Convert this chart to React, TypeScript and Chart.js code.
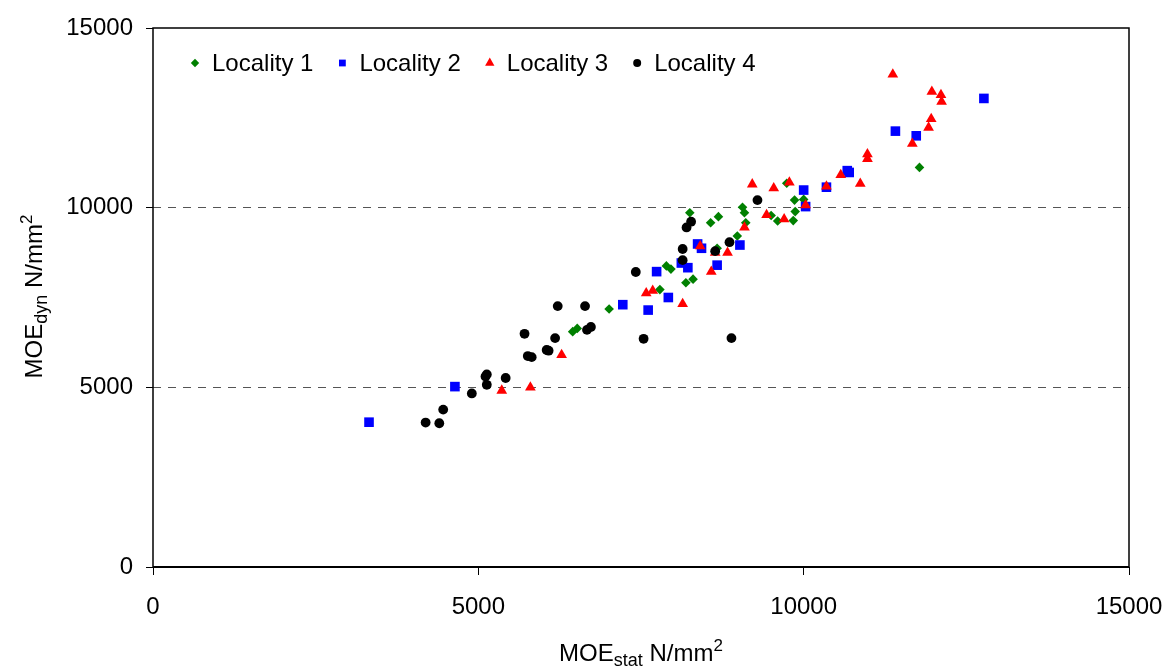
import React, { useEffect, useRef } from 'react';
import { Chart, registerables } from 'chart.js';
import { drawPoint } from 'chart.js/helpers';

Chart.register(...registerables);

const seriesNames = ['Locality 1', 'Locality 2', 'Locality 3', 'Locality 4'];

const locality1X = [6450, 6520, 7010, 7790, 7890, 7960, 8190, 8300, 8250, 8570, 8690, 8670, 8980, 9110, 9060, 9090, 9500, 9600, 9740, 9840, 9870, 9860, 10000, 11780];
const locality1Y = [6550, 6640, 7180, 7720, 8380, 8290, 7910, 8010, 9860, 9580, 9750, 8870, 9210, 9580, 10010, 9860, 9780, 9630, 10680, 9640, 9890, 10210, 10230, 11120];

const locality2X = [3320, 4640, 7220, 7610, 7740, 7920, 8220, 8120, 8370, 8430, 8670, 9020, 10000, 10030, 10350, 10670, 10700, 11410, 11730, 12770];
const locality2Y = [4030, 5020, 7300, 7150, 8220, 7500, 8330, 8460, 8990, 8870, 8400, 8960, 10490, 10030, 10570, 11030, 10980, 12130, 12000, 13040];

const locality3X = [5360, 5800, 6280, 7580, 7680, 8140, 8410, 8640, 8580, 8830, 9090, 9210, 9430, 9540, 9700, 9780, 10030, 10350, 10570, 10870, 10980, 10980, 11370, 11970, 12110, 12120, 11960, 11920, 11670];
const locality3Y = [4910, 5000, 5900, 7620, 7690, 7320, 8930, 8750, 8220, 8750, 9450, 10650, 9800, 10540, 9680, 10700, 10070, 10590, 10910, 10670, 11490, 11360, 13710, 13230, 13140, 12950, 12470, 12230, 11780];

const locality4X = [4190, 4400, 4460, 4900, 5130, 5130, 5110, 5420, 5710, 5760, 5820, 6050, 6080, 6180, 6220, 6640, 6670, 6730, 7420, 7540, 8140, 8140, 8200, 8270, 8640, 8860, 9290, 8890];
const locality4Y = [4020, 4000, 4380, 4830, 5070, 5360, 5300, 5260, 6490, 5870, 5840, 6040, 6020, 6370, 7260, 7260, 6600, 6680, 8210, 6350, 8540, 8850, 9450, 9610, 8790, 9040, 10210, 6370];

const axisTicks = [0, 5000, 10000, 15000];

const FONT = "'Liberation Sans', Arial, sans-serif";
const colors = ['#008000', '#0000ff', '#ff0000', '#000000'];
const styles = ['rectRot', 'rect', 'triangle', 'circle'];
const radii = [4.8, 6.8, 6.2, 4.9];
const legendRadii = [4.2, 4.8, 5.4, 4];

const toPoints = (xs: number[], ys: number[]) => xs.map((x, i) => ({ x, y: ys[i] }));

type Part = { t: string; size: number; dy: number };

function drawRich(ctx: CanvasRenderingContext2D, parts: Part[], cx: number, baseline: number) {
  let total = 0;
  parts.forEach((p) => {
    ctx.font = `${p.size}px ${FONT}`;
    total += ctx.measureText(p.t).width;
  });
  let x = cx - total / 2;
  ctx.textBaseline = 'alphabetic';
  ctx.textAlign = 'left';
  parts.forEach((p) => {
    ctx.font = `${p.size}px ${FONT}`;
    ctx.fillText(p.t, x, baseline + p.dy);
    x += ctx.measureText(p.t).width;
  });
}

const decorPlugin = {
  id: 'decor',
  beforeDatasetsDraw(chart: any) {
    const { ctx, chartArea: a } = chart;
    ctx.save();
    ctx.strokeStyle = '#000';
    ctx.lineWidth = 1.5;
    ctx.strokeRect(a.left, a.top, a.right - a.left, a.bottom - a.top);
    ctx.lineWidth = 2;
    ctx.beginPath();
    ctx.moveTo(a.left, a.bottom);
    ctx.lineTo(a.right, a.bottom);
    ctx.stroke();
    ctx.restore();
  },
  afterDraw(chart: any) {
    const { ctx, chartArea: a } = chart;
    ctx.save();
    ctx.fillStyle = '#000';
    // x title
    drawRich(
      ctx,
      [
        { t: 'MOE', size: 24, dy: 0 },
        { t: 'stat', size: 18, dy: 5 },
        { t: ' N/mm', size: 24, dy: 0 },
        { t: '2', size: 17, dy: -10 },
      ],
      (a.left + a.right) / 2,
      661
    );
    // y title
    ctx.save();
    ctx.translate(42, (a.top + a.bottom) / 2 - 1);
    ctx.rotate(-Math.PI / 2);
    drawRich(
      ctx,
      [
        { t: 'MOE', size: 24, dy: 0 },
        { t: 'dyn', size: 18, dy: 5 },
        { t: ' N/mm', size: 24, dy: 0 },
        { t: '2', size: 17, dy: -10 },
      ],
      0,
      0
    );
    ctx.restore();
    // legend
    const ly = 63;
    let mx = a.left + 42;
    ctx.font = `24px ${FONT}`;
    ctx.textBaseline = 'middle';
    ctx.textAlign = 'left';
    seriesNames.forEach((name, i) => {
      ctx.fillStyle = colors[i];
      drawPoint(ctx, { pointStyle: styles[i] as any, radius: legendRadii[i], rotation: 0, borderWidth: 0 }, mx, ly);
      ctx.fillStyle = '#000';
      const tx = mx + 17;
      ctx.fillText(name, tx, ly + 1);
      mx = tx + ctx.measureText(name).width + 29;
    });
    ctx.restore();
  },
};

export default function App() {
  const ref = useRef<HTMLCanvasElement | null>(null);

  useEffect(() => {
    if (!ref.current) return;
    const xsList = [locality1X, locality2X, locality3X, locality4X];
    const ysList = [locality1Y, locality2Y, locality3Y, locality4Y];
    const datasets = seriesNames.map((name, i) => ({
      label: name,
      data: toPoints(xsList[i], ysList[i]),
      pointStyle: styles[i],
      pointRadius: radii[i],
      pointBackgroundColor: colors[i],
      pointBorderColor: colors[i],
      pointBorderWidth: 0,
      backgroundColor: colors[i],
      borderColor: colors[i],
      showLine: false,
      order: 4 - i,
    }));

    const chart = new Chart(ref.current, {
      type: 'scatter',
      data: { datasets: datasets as any },
      plugins: [decorPlugin],
      options: {
        animation: false,
        responsive: false,
        devicePixelRatio: 1,
        layout: { padding: { left: 0, right: 39, top: 28, bottom: 0 } },
        plugins: { legend: { display: false }, tooltip: { enabled: false } },
        scales: {
          x: {
            type: 'linear',
            min: 0,
            max: 15000,
            afterBuildTicks: (s: any) => {
              s.ticks = axisTicks.map((v) => ({ value: v }));
            },
            afterFit: (s: any) => {
              s.height = 101;
              s.paddingLeft = 0;
              s.paddingRight = 0;
            },
            ticks: {
              color: '#000',
              font: { family: FONT, size: 24 },
              padding: 18,
              maxRotation: 0,
              callback: (v: any) => String(v),
            },
            grid: {
              drawOnChartArea: false,
              drawTicks: true,
              tickLength: 8,
              tickColor: '#000',
              tickWidth: 1,
            },
            border: { display: false },
          },
          y: {
            type: 'linear',
            min: 0,
            max: 15000,
            afterBuildTicks: (s: any) => {
              s.ticks = axisTicks.map((v) => ({ value: v }));
            },
            afterFit: (s: any) => {
              s.width = 153;
              s.paddingTop = 0;
              s.paddingBottom = 0;
            },
            ticks: {
              color: '#000',
              font: { family: FONT, size: 24 },
              padding: 13,
              callback: (v: any) => String(v),
            },
            grid: {
              drawTicks: true,
              tickLength: 7,
              tickColor: '#000',
              tickWidth: 1,
              tickBorderDash: [],
              lineWidth: 1,
              color: (c: any) =>
                c.tick && (c.tick.value === 5000 || c.tick.value === 10000) ? '#555555' : 'rgba(0,0,0,0)',
            } as any,
            border: { display: false, dash: [8, 7] },
          },
        },
      },
    });
    return () => chart.destroy();
  }, []);

  return (
    <div style={{ position: 'absolute', left: 0, top: 0, width: 1168, height: 668, background: '#fff' }}>
      <canvas ref={ref} width={1168} height={668} style={{ display: 'block' }} />
    </div>
  );
}
